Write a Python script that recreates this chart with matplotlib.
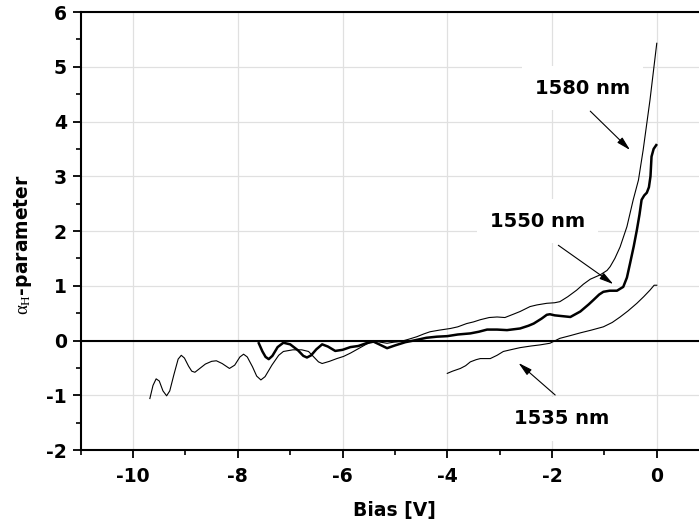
import matplotlib
matplotlib.use("Agg")
import matplotlib.pyplot as plt
from matplotlib.ticker import MultipleLocator

# Linewidth enhancement factor vs. reverse bias, three wavelengths
bias_1580 = [-9.68, -9.62, -9.56, -9.50, -9.43, -9.36, -9.30, -9.22, -9.14, -9.08,
             -9.02, -8.94, -8.88, -8.82, -8.74, -8.62, -8.50, -8.41, -8.30, -8.16,
             -8.06, -7.96, -7.89, -7.82, -7.72, -7.64, -7.56, -7.48, -7.35, -7.22,
             -7.13, -6.95, -6.78, -6.65, -6.55, -6.46, -6.39, -6.25, -6.11, -5.98,
             -5.85, -5.70, -5.57, -5.41, -5.28, -5.15, -5.02, -4.90, -4.75, -4.58,
             -4.45, -4.33, -4.15, -3.94, -3.80, -3.63, -3.50, -3.37, -3.20, -3.05,
             -2.90, -2.74, -2.61, -2.42, -2.29, -2.10, -1.95, -1.85, -1.70, -1.53,
             -1.40, -1.27, -1.08, -0.95, -0.89, -0.80, -0.70, -0.57, -0.45, -0.35,
             -0.26, -0.20, -0.13, -0.06, 0.00]
alpha_1580 = [-1.06, -0.82, -0.70, -0.74, -0.92, -1.01, -0.92, -0.62, -0.34, -0.27,
              -0.32, -0.47, -0.56, -0.58, -0.52, -0.43, -0.38, -0.37, -0.42, -0.51,
              -0.45, -0.30, -0.25, -0.30, -0.48, -0.65, -0.72, -0.66, -0.45, -0.27,
              -0.20, -0.17, -0.17, -0.20, -0.30, -0.39, -0.42, -0.38, -0.33, -0.29,
              -0.23, -0.15, -0.08, 0.00, -0.03, -0.05, -0.03, -0.02, 0.02, 0.07,
              0.12, 0.16, 0.19, 0.22, 0.25, 0.31, 0.34, 0.38, 0.42, 0.43,
              0.42, 0.48, 0.53, 0.62, 0.65, 0.68, 0.69, 0.71, 0.80, 0.92,
              1.03, 1.12, 1.20, 1.28, 1.35, 1.50, 1.71, 2.08, 2.57, 2.93,
              3.48, 3.90, 4.39, 4.95, 5.43]

bias_1550 = [-7.60, -7.53, -7.47, -7.41, -7.34, -7.24, -7.13, -7.00, -6.85, -6.75,
             -6.68, -6.60, -6.50, -6.39, -6.28, -6.14, -6.00, -5.85, -5.70, -5.55,
             -5.41, -5.30, -5.15, -5.00, -4.80, -4.64, -4.40, -4.20, -4.00, -3.80,
             -3.56, -3.40, -3.24, -3.05, -2.86, -2.61, -2.45, -2.35, -2.20, -2.10,
             -2.04, -1.95, -1.85, -1.65, -1.46, -1.30, -1.21, -1.10, -1.02, -0.90,
             -0.76, -0.64, -0.57, -0.51, -0.44, -0.38, -0.33, -0.29, -0.24, -0.19,
             -0.15, -0.12, -0.10, -0.06, -0.01]
alpha_1550 = [-0.05, -0.20, -0.30, -0.34, -0.28, -0.12, -0.04, -0.07, -0.18, -0.28,
              -0.31, -0.27, -0.16, -0.07, -0.11, -0.19, -0.17, -0.12, -0.10, -0.05,
              -0.02, -0.07, -0.14, -0.09, -0.03, 0.00, 0.05, 0.07, 0.08, 0.11,
              0.13, 0.16, 0.20, 0.20, 0.19, 0.22, 0.27, 0.31, 0.40, 0.47,
              0.48, 0.46, 0.45, 0.43, 0.53, 0.66, 0.74, 0.84, 0.89, 0.91,
              0.91, 0.98, 1.15, 1.41, 1.72, 2.02, 2.30, 2.57, 2.65, 2.70,
              2.80, 3.00, 3.36, 3.50, 3.57]

bias_1535 = [-4.00, -3.90, -3.75, -3.65, -3.56, -3.45, -3.37, -3.18, -3.05, -2.93,
             -2.75, -2.61, -2.40, -2.23, -2.04, -1.85, -1.65, -1.46, -1.25, -1.02,
             -0.85, -0.70, -0.55, -0.38, -0.25, -0.13, -0.05, 0.00]
alpha_1535 = [-0.60, -0.56, -0.51, -0.46, -0.39, -0.35, -0.33, -0.33, -0.27, -0.20,
              -0.16, -0.13, -0.10, -0.08, -0.05, 0.04, 0.09, 0.14, 0.19, 0.25,
              0.33, 0.43, 0.54, 0.68, 0.80, 0.92, 1.01, 1.01]

x_ticks = [-10, -8, -6, -4, -2, 0]
y_ticks = [-2, -1, 0, 1, 2, 3, 4, 5, 6]

plt.rcParams["axes.unicode_minus"] = False
plt.rcParams["mathtext.fontset"] = "custom"
plt.rcParams["mathtext.rm"] = "Liberation Serif"
plt.rcParams["mathtext.it"] = "Liberation Serif:italic"

fig = plt.figure(figsize=(6.99, 5.27), dpi=100)
ax = fig.add_axes([0.1155, 0.1461, 0.899, 0.831])

ax.set_xlim(-11, 1)
ax.set_ylim(-2, 6)
ax.set_xticks(x_ticks)
ax.set_yticks(y_ticks)
ax.xaxis.set_minor_locator(MultipleLocator(1))
ax.yaxis.set_minor_locator(MultipleLocator(0.5))

ax.grid(True, which="major", color="#e0e0e0", linewidth=0.9, zorder=0)
ax.axhline(0, color="black", linewidth=1.5, zorder=2)

ax.plot(bias_1580, alpha_1580, color="black", linewidth=0.8, zorder=3)
ax.plot(bias_1550, alpha_1550, color="black", linewidth=1.8, zorder=3)
ax.plot(bias_1535, alpha_1535, color="black", linewidth=0.8, zorder=3)

for side in ("left", "bottom", "top"):
    ax.spines[side].set_linewidth(1.5)
ax.spines["right"].set_visible(False)

ax.tick_params(axis="both", which="major", direction="out", length=6,
               width=1.3, labelsize=13.5, top=False, right=False)
ax.tick_params(axis="both", which="minor", direction="out", length=3.5,
               width=1.2, top=False, right=False)
ax.tick_params(axis="x", which="major", pad=6)
ax.tick_params(axis="y", which="major", pad=4)
for lbl in ax.get_xticklabels() + ax.get_yticklabels():
    lbl.set_fontweight("bold")

ax.set_xlabel("Bias [V]", fontsize=13.5, fontweight="bold")
ax.set_ylabel(r"$\mathrm{\alpha_{H}}$-parameter", fontsize=13.5, fontweight="bold")
ax.yaxis.set_label_coords(-0.075, 0.47)
ax.xaxis.set_label_coords(0.5, -0.117)

box = dict(boxstyle="square,pad=0.65", facecolor="white", edgecolor="none")
arrow = dict(arrowstyle="-|>,head_length=0.7,head_width=0.18", color="black",
             linewidth=0.8, mutation_scale=12, shrinkA=0, shrinkB=0)

ax.text(-1.42, 4.61, "1580 nm", fontsize=14, fontweight="bold",
        ha="center", va="center", bbox=box, zorder=4)
ax.annotate("", xy=(-0.51, 3.48), xytext=(-1.27, 4.19), arrowprops=arrow, zorder=5)

ax.text(-2.28, 2.18, "1550 nm", fontsize=14, fontweight="bold",
        ha="center", va="center", bbox=box, zorder=4)
ax.annotate("", xy=(-0.83, 1.03), xytext=(-1.88, 1.74), arrowprops=arrow, zorder=5)

ax.text(-1.82, -1.43, "1535 nm", fontsize=14, fontweight="bold",
        ha="center", va="center", bbox=box, zorder=4)
ax.annotate("", xy=(-2.64, -0.41), xytext=(-1.94, -0.995), arrowprops=arrow, zorder=5)

fig.savefig("out.png", dpi=100)
